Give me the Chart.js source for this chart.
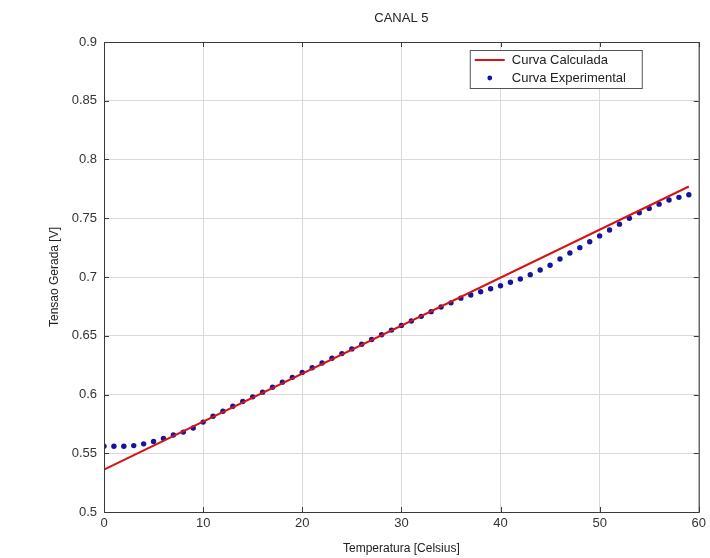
<!DOCTYPE html>
<html>
<head>
<meta charset="utf-8">
<script src="https://cdn.jsdelivr.net/npm/chart.js@4.4.0/dist/chart.umd.min.js"></script>
<style>
html, body { margin: 0; padding: 0; background: #fff; }
</style>
</head>
<body>
<canvas id="myChart" width="710" height="558"></canvas>
<script>
const chartTitle = 'CANAL 5'
const xLabel = 'Temperatura [Celsius]'
const yLabel = 'Tensao Gerada [V]'
const calcLabel = 'Curva Calculada'
const expLabel = 'Curva Experimental'

// curva calculada: reta, so os extremos
const calcTemp = [0, 59]
const calcVolt = [0.536, 0.777]

// pontos experimentais, um por grau
const expTemp = [0,1,2,3,4,5,6,7,8,9,10,11,12,13,14,15,16,17,18,19,
                 20,21,22,23,24,25,26,27,28,29,30,31,32,33,34,35,36,37,38,39,
                 40,41,42,43,44,45,46,47,48,49,50,51,52,53,54,55,56,57,58,59]
const expVolt = [0.556,0.556,0.556,0.5565,0.558,0.560,0.5625,0.5655,0.568,0.5715,
                 0.5765,0.5815,0.5858,0.590,0.594,0.598,0.602,0.6062,0.6105,0.6146,
                 0.6188,0.6228,0.6268,0.6308,0.6348,0.6388,0.6428,0.6468,0.6508,0.6548,
                 0.6588,0.6625,0.6665,0.6705,0.6745,0.678,0.682,0.6847,0.6875,0.690,
                 0.6926,0.6955,0.6983,0.702,0.706,0.710,0.7153,0.7204,0.725,0.730,
                 0.735,0.740,0.745,0.750,0.7547,0.7584,0.762,0.7655,0.7678,0.770]

const xTicks = [0, 10, 20, 30, 40, 50, 60]
const yTicks = [0.5, 0.55, 0.6, 0.65, 0.7, 0.75, 0.8, 0.85, 0.9]

const fontFam = '"Liberation Sans", Arial, sans-serif'
const redColor = '#d41414'
const blueColor = '#14149c'

// moldura, ticks internos, titulo e legenda estilo matlab
const matlabFrame = {
    id: 'matlabFrame',
    afterDraw(chart) {
        const {ctx, chartArea: a, scales} = chart
        ctx.save()
        ctx.strokeStyle = '#3a3a3a'
        ctx.lineWidth = 1
        ctx.strokeRect(a.left + 0.5, a.top + 0.5, a.right - a.left, a.bottom - a.top)
        ctx.beginPath()
        xTicks.forEach(v => {
            let px = Math.round(scales.x.getPixelForValue(v)) + 0.5
            ctx.moveTo(px, a.bottom); ctx.lineTo(px, a.bottom - 5)
            ctx.moveTo(px, a.top); ctx.lineTo(px, a.top + 5)
        })
        yTicks.forEach(v => {
            let py = Math.round(scales.y.getPixelForValue(v)) + 0.5
            ctx.moveTo(a.left, py); ctx.lineTo(a.left + 5, py)
            ctx.moveTo(a.right, py); ctx.lineTo(a.right - 5, py)
        })
        ctx.stroke()

        ctx.fillStyle = '#222'
        ctx.font = '13px ' + fontFam
        ctx.textAlign = 'center'
        ctx.textBaseline = 'middle'
        ctx.fillText(chartTitle, (a.left + a.right) / 2, 18)

        // legenda
        let lx = a.right - 229, ly = a.top + 8
        ctx.fillStyle = '#fff'
        ctx.fillRect(lx, ly, 172, 38)
        ctx.strokeStyle = '#555'
        ctx.strokeRect(lx + 0.5, ly + 0.5, 172, 38)
        ctx.strokeStyle = redColor
        ctx.lineWidth = 2
        ctx.beginPath()
        ctx.moveTo(lx + 5, ly + 10); ctx.lineTo(lx + 35, ly + 10)
        ctx.stroke()
        ctx.fillStyle = blueColor
        ctx.beginPath()
        ctx.arc(lx + 20, ly + 28, 2.4, 0, Math.PI * 2)
        ctx.fill()
        ctx.fillStyle = '#222'
        ctx.textAlign = 'left'
        ctx.font = '13px ' + fontFam
        ctx.fillText(calcLabel, lx + 42, ly + 10)
        ctx.fillText(expLabel, lx + 42, ly + 28)
        ctx.restore()
    }
}

const ctx = document.getElementById('myChart').getContext('2d')
const myChart = new Chart(ctx, {
    type: 'line',
    data: {
        datasets: [{
            label: calcLabel,
            data: calcTemp.map((t, i) => ({x: t, y: calcVolt[i]})),
            borderColor: redColor,
            borderWidth: 2,
            pointRadius: 0,
            fill: false
        }, {
            label: expLabel,
            data: expTemp.map((t, i) => ({x: t, y: expVolt[i]})),
            showLine: false,
            pointRadius: 2.7,
            pointBorderWidth: 0,
            pointBackgroundColor: blueColor,
            borderColor: blueColor
        }]
    },
    options: {
        responsive: false,
        animation: false,
        devicePixelRatio: 1,
        layout: {padding: {top: 42, right: 9, left: 0, bottom: 0}},
        plugins: {
            legend: {display: false},
            title: {display: false},
            tooltip: {enabled: false}
        },
        scales: {
            x: {
                type: 'linear',
                min: 0,
                max: 60,
                afterFit: s => { s.height = 46 },
                afterBuildTicks: s => { s.ticks = xTicks.map(v => ({value: v})) },
                ticks: {color: '#333', font: {family: fontFam, size: 13}, padding: 4, maxRotation: 0},
                grid: {color: '#dadada', drawTicks: false},
                border: {display: false},
                title: {display: true, text: xLabel, color: '#222', font: {family: fontFam, size: 12}, padding: {top: 4, bottom: 2}}
            },
            y: {
                type: 'linear',
                min: 0.5,
                max: 0.9,
                afterFit: s => { s.width = 104 },
                afterBuildTicks: s => { s.ticks = yTicks.map(v => ({value: v})) },
                ticks: {color: '#333', font: {family: fontFam, size: 13}, padding: 7,
                        callback: v => String(+v.toFixed(2))},
                grid: {color: '#dadada', drawTicks: false},
                border: {display: false},
                title: {display: true, text: yLabel, color: '#222', font: {family: fontFam, size: 12}, padding: {top: 47, bottom: 0}}
            }
        }
    },
    plugins: [matlabFrame]
})
</script>
</body>
</html>
